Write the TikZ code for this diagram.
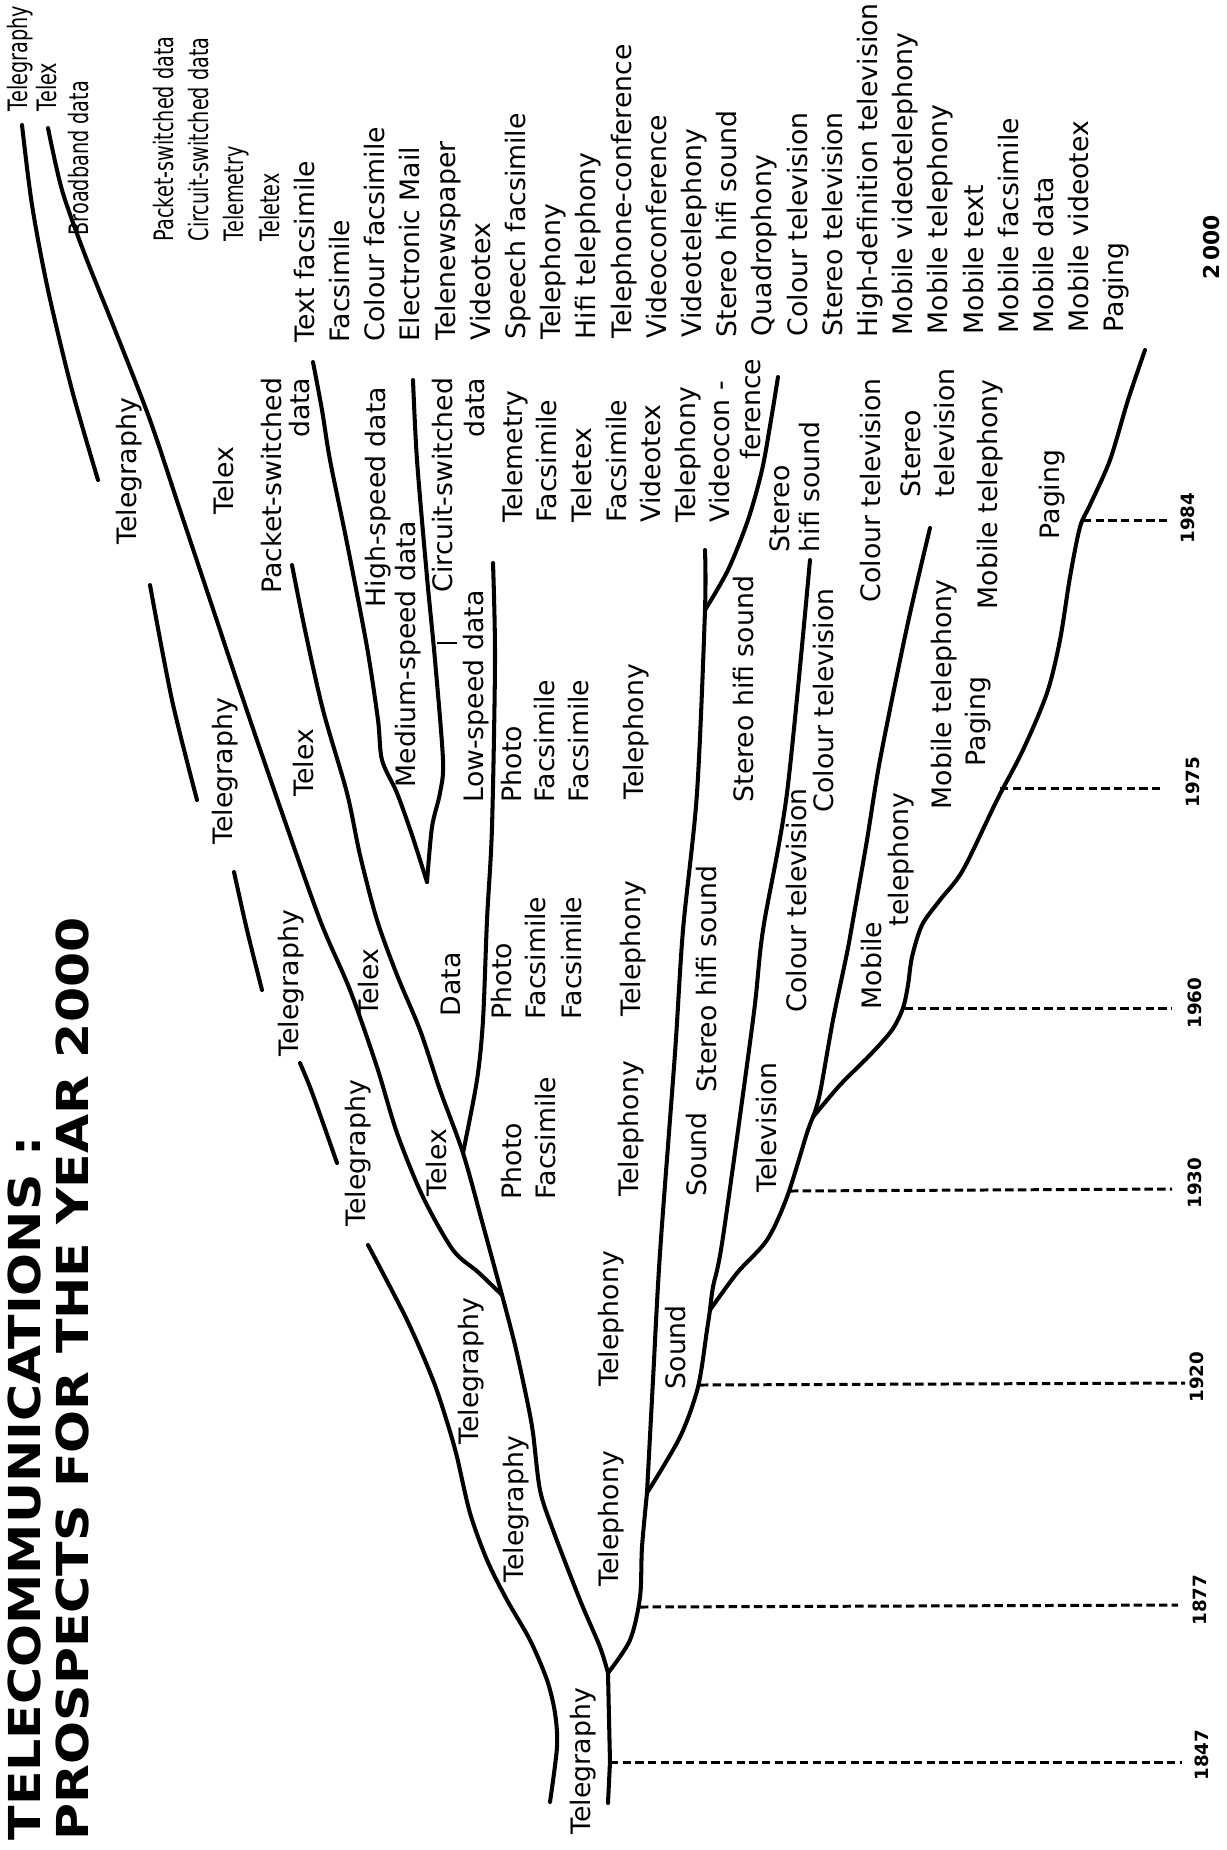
\documentclass[tikz,border=0pt]{standalone}
\usepackage{fontspec}
\setmainfont{DejaVu Sans}
\begin{document}
\begin{tikzpicture}[x=0.01cm,y=-0.01cm,
  branch/.style={line width=1.15pt, line cap=round, line join=round},
  yearline/.style={line width=0.85pt, dash pattern=on 2.4pt off 1.2pt},
  lbl/.style={rotate=90, anchor=mid west, inner sep=0pt, font=\fontsize{7.6}{9}\selectfont},
  lblr/.style={lbl, anchor=mid east},
  yr/.style={rotate=90, inner sep=0pt, font=\fontsize{5.2}{6}\selectfont\bfseries},
  ttl/.style={rotate=90, anchor=base west, inner sep=0pt, font=\fontsize{12.5}{15}\selectfont\bfseries},
]
\newcommand{\narrow}[1]{\scalebox{0.72}[1]{#1}}
\useasboundingbox (0,0) rectangle (1226,1850);

%%%%%%%%%%%%%%%% title
\node[ttl] (title1) at (41,1841) {\scalebox{1.15}[1]{TELECOMMUNICATIONS :}};
\node[ttl] (title2) at (88,1841) {\scalebox{1.15}[1]{PROSPECTS FOR THE YEAR 2000}};

%%%%%%%%%%%%%%%% junctions
\coordinate (J0) at (608,1673);
\coordinate (J1) at (502,1295);
\coordinate (JD) at (463,1153);
\coordinate (J2) at (647,1493);
\coordinate (J3) at (705,610);
\coordinate (J4) at (710,1310);
\coordinate (J5) at (813,1117);
\coordinate (Vtip) at (427,882);

%%%%%%%%%%%%%%%% telegraphy, telex, data
\draw[branch] (608,1803) -- (610,1762) -- (J0);
\draw[branch] plot[smooth] coordinates {(J0) (600,1647) (580,1600) (553,1530) (540,1490) (533,1433) (527,1400) (515,1345) (J1)};
\draw[branch] plot[smooth] coordinates {(550,1802) (557,1747) (555,1713) (547,1680) (530,1640) (507,1600) (487,1560) (470,1513) (457,1457) (448,1425) (433,1380) (407,1320) (368,1245)};
\draw[branch] plot[smooth] coordinates {(337,1163) (323,1123) (310,1087) (300,1063)};
\draw[branch] plot[smooth] coordinates {(262,990) (247,930) (234,872)};
\draw[branch] plot[smooth] coordinates {(197,800) (172,700) (150,585)};
\draw[branch] plot[smooth] coordinates {(98,480) (72,390) (48,290) (32,205) (22,125)};
\draw[branch] plot[smooth] coordinates {(J1) (478,1272) (453,1250) (423,1197) (397,1133) (377,1067) (350,990) (320,920) (280,807) (245,705) (210,600) (180,510) (150,420) (115,330) (85,255) (62,190) (48,128)};
\draw[branch] plot[smooth] coordinates {(J1) (483,1225) (JD) (440,1090) (420,1030) (397,975) (377,920) (360,855) (347,793) (323,710) (305,630) (292,565)};
\draw[branch] plot[smooth] coordinates {(JD) (477,1080) (483,1020) (487,920) (492,827) (495,660) (493,563)};
\draw[branch] plot[smooth] coordinates {(313,362) (322,410) (330,460) (347,543) (367,647) (378,720) (382,760) (397,793) (412,835) (Vtip)};
\draw[branch] plot[smooth] coordinates {(413,380) (417,460) (427,577) (435,660) (443,760) (440,793) (432,827) (Vtip)};
\coordinate (tk1) at (437,643);
\coordinate (tk2) at (457,643);
\draw[line width=0.7pt] (tk1) -- (tk2);

%%%%%%%%%%%%%%%% telephony, sound, television, mobile
\draw[branch] plot[smooth] coordinates {(J0) (630,1640) (640,1597) (642,1547) (J2)};
\draw[branch] plot[smooth] coordinates {(J2) (653,1380) (660,1253) (675,1053) (683,930) (697,793) (J3) (705,550)};
\draw[branch] plot[smooth] coordinates {(J3) (728,570) (748,520) (762,470) (771,420) (778,377)};
\draw[branch] plot[smooth] coordinates {(J2) (680,1437) (698,1387) (707,1330) (J4)};
\draw[branch] plot[smooth] coordinates {(J4) (713,1287) (723,1237) (753,1020) (763,930) (787,793) (810,560)};
\draw[branch] plot[smooth] coordinates {(J4) (737,1273) (767,1240) (787,1197) (807,1133) (J5)};
\draw[branch] plot[smooth] coordinates {(J5) (820,1093) (833,1020) (847,953) (853,920) (867,840) (880,760) (907,627) (930,528)};
\draw[branch] plot[smooth] coordinates {(J5) (840,1085) (870,1055) (892,1030) (903,1008) (908,985) (912,957) (922,925) (940,900) (963,870) (997,800) (1023,750) (1047,693) (1060,640) (1070,577) (1080,527) (1090,505) (1110,460) (1128,400) (1145,350)};

%% years
\coordinate (s1847) at (610,1762);  \coordinate (e1847) at (1182,1762);
\coordinate (s1877) at (640,1607);  \coordinate (e1877) at (1178,1605);
\coordinate (s1920) at (700,1385);  \coordinate (e1920) at (1185,1383);
\coordinate (s1930) at (790,1191);  \coordinate (e1930) at (1172,1189);
\coordinate (s1960) at (905,1008);  \coordinate (e1960) at (1172,1008);
\coordinate (s1975) at (1000,788);  \coordinate (e1975) at (1163,788);
\coordinate (s1984) at (1083,520);  \coordinate (e1984) at (1170,520);
\draw[yearline] (s1847) -- (e1847);
\draw[yearline] (s1877) -- (e1877);
\draw[yearline] (s1920) -- (e1920);
\draw[yearline] (s1930) -- (e1930);
\draw[yearline] (s1960) -- (e1960);
\draw[yearline] (s1975) -- (e1975);
\draw[yearline] (s1984) -- (e1984);
\node[yr] (y1847) at (1202,1755) {1847};
\node[yr] (y1877) at (1200,1600) {1877};
\node[yr] (y1920) at (1197,1377) {1920};
\node[yr] (y1930) at (1195,1183) {1930};
\node[yr] (y1960) at (1195,1003) {1960};
\node[yr] (y1975) at (1193,782) {1975};
\node[yr] (y1984) at (1188,518) {1984};
\node[yr, font=\fontsize{6.2}{7}\selectfont\bfseries] (y2000) at (1212,247) {2\,000};

%%%%%%%%%%%%%%%% labels along the branches
\node[lbl] (tgA) at (581,1835) {Telegraphy};
\node[lbl] (tgB) at (514,1583) {Telegraphy};
\node[lbl] (tgC) at (469,1445) {Telegraphy};
\node[lbl] (tgD) at (356,1227) {Telegraphy};
\node[lbl] (tgE) at (289,1057) {Telegraphy};
\node[lbl] (tgF) at (223,845) {Telegraphy};
\node[lbl] (tgG) at (127,545) {Telegraphy};
\node[lbl] (txA) at (437,1197) {Telex};
\node[lbl] (txB) at (369,1017) {Telex};
\node[lbl] (txC) at (304,797) {Telex};
\node[lbl] (txD) at (224,515) {Telex};
\node[lbl] (dtA) at (451,1017) {Data};
\node[lbl] (dtB) at (474,803) {Low-speed data};
\node[lbl] (dtC) at (406,788) {Medium-speed data};
\node[lbl] (dtD) at (376,608) {High-speed data};
\node[lblr] (dtE) at (443,377) {Circuit-switched};
\node[lblr] (dtF) at (475,377) {data};
\node[lblr] (dtG) at (272,377) {Packet-switched};
\node[lblr] (dtH) at (300,377) {data};

\node[lbl] (phA) at (512,1200) {Photo};
\node[lbl] (fxA) at (546,1200) {Facsimile};
\node[lbl] (phB) at (502,1020) {Photo};
\node[lbl] (fxB) at (536,1020) {Facsimile};
\node[lbl] (fxC) at (572,1020) {Facsimile};
\node[lbl] (phC) at (512,803) {Photo};
\node[lbl] (fxD) at (545,803) {Facsimile};
\node[lbl] (fxE) at (579,803) {Facsimile};
\node[lbl] (tpA) at (609,1587) {Telephony};
\node[lbl] (tpB) at (609,1387) {Telephony};
\node[lbl] (tpC) at (629,1197) {Telephony};
\node[lbl] (tpD) at (631,1017) {Telephony};
\node[lbl] (tpE) at (634,800) {Telephony};

\node[lbl] (cA) at (513,523) {Telemetry};
\node[lbl] (cB) at (547,523) {Facsimile};
\node[lbl] (cC) at (582,523) {Teletex};
\node[lbl] (cD) at (617,523) {Facsimile};
\node[lbl] (cE) at (651,523) {Videotex};
\node[lbl] (cF) at (686,523) {Telephony};
\node[lbl] (cG) at (720,523) {Videocon -};
\node[lblr] (cH) at (751,358) {ference};

\node[lbl] (sdA) at (676,1390) {Sound};
\node[lbl] (sdB) at (697,1197) {Sound};
\node[lbl] (sdC) at (707,1093) {Stereo hifi sound};
\node[lbl] (sdD) at (744,803) {Stereo hifi sound};
\node[lbl] (sdE) at (780,553) {Stereo};
\node[lbl] (sdF) at (810,553) {hifi sound};

\node[lbl] (tvA) at (767,1193) {Television};
\node[lbl] (tvB) at (797,1013) {Colour television};
\node[lbl] (tvC) at (824,813) {Colour television};
\node[lbl] (tvD) at (871,603) {Colour television};
\node[lbl] (tvE) at (911,498) {Stereo};
\node[lbl] (tvF) at (945,498) {television};

\node[lbl] (mbA) at (872,1010) {Mobile};
\node[lbl] (mbB) at (899,927) {telephony};
\node[lbl] (mbC) at (942,810) {Mobile telephony};
\node[lbl] (pgA) at (976,767) {Paging};
\node[lbl] (mbD) at (988,610) {Mobile telephony};
\node[lbl] (pgB) at (1050,540) {Paging};

%%%%%%%%%%%%%%%% year 2000
\node[lbl] (nA) at (18,112) {\narrow{Telegraphy}};
\node[lbl] (nB) at (47,112) {\narrow{Telex}};
\node[lbl] (nC) at (79,236) {\narrow{Broadband data}};
\node[lbl] (n0) at (164,242) {\narrow{Packet-switched data}};
\node[lbl] (n1) at (199,242) {\narrow{Circuit-switched data}};
\node[lbl] (n2) at (234,242) {\narrow{Telemetry}};
\node[lbl] (n3) at (270,242) {\narrow{Teletex}};
\node[lbl] (n4) at (305,343) {Text facsimile};
\node[lbl] (n5) at (340,343) {Facsimile};
\node[lbl] (n6) at (375,342) {Colour facsimile};
\node[lbl] (n7) at (410,342) {Electronic Mail};
\node[lbl] (n8) at (446,341) {Telenewspaper};
\node[lbl] (n9) at (481,341) {Videotex};
\node[lbl] (n10) at (516,340) {Speech facsimile};
\node[lbl] (n11) at (551,340) {Telephony};
\node[lbl] (n12) at (586,340) {Hifi telephony};
\node[lbl] (n13) at (622,339) {Telephone-conference};
\node[lbl] (n14) at (657,339) {Videoconference};
\node[lbl] (n15) at (692,338) {Videotelephony};
\node[lbl] (n16) at (727,338) {Stereo hifi sound};
\node[lbl] (n17) at (762,337) {Quadrophony};
\node[lbl] (n18) at (798,337) {Colour television};
\node[lbl] (n19) at (833,337) {Stereo television};
\node[lbl] (n20) at (868,338) {High-definition television};
\node[lbl] (n21) at (903,336) {Mobile videotelephony};
\node[lbl] (n22) at (938,335) {Mobile telephony};
\node[lbl] (n23) at (974,335) {Mobile text};
\node[lbl] (n24) at (1009,334) {Mobile facsimile};
\node[lbl] (n25) at (1044,334) {Mobile data};
\node[lbl] (n26) at (1079,333) {Mobile videotex};
\node[lbl] (n27) at (1114,333) {Paging};

\end{tikzpicture}
\end{document}
